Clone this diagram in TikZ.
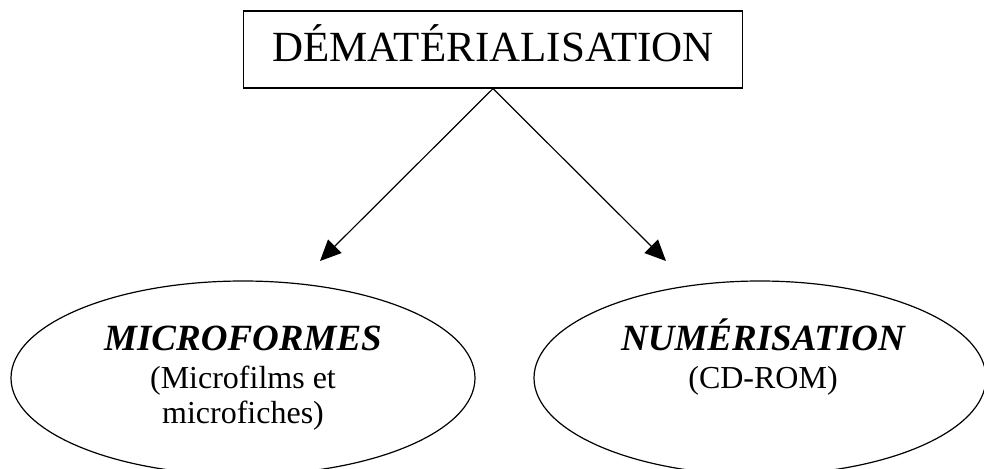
\documentclass[tikz,border=0pt]{standalone}
\usepackage{fontspec}
\setmainfont{Liberation Serif}
\usetikzlibrary{shapes.geometric,arrows.meta}
\begin{document}
\begin{tikzpicture}[x=1pt,y=-1pt,line width=1.2pt,
  titlebox/.style={draw,minimum width=499pt,minimum height=77pt,inner sep=0pt},
  oval/.style={draw,ellipse,inner sep=0pt,minimum height=194pt},
  bigtxt/.style={anchor=base,inner sep=0pt,font=\fontsize{43}{43}\selectfont},
  headtxt/.style={anchor=base,inner sep=0pt,font=\fontsize{37}{37}\selectfont\bfseries\itshape},
  subtxt/.style={anchor=base,inner sep=0pt,font=\fontsize{32}{32}\selectfont},
  arr/.style={-{Triangle[length=21pt,width=19pt]}}]
\useasboundingbox (0,0) rectangle (984,468);
\node[titlebox] (box) at (493,49.5) {};
\node[bigtxt] (title) at (493,62) {DÉMATÉRIALISATION};
\node[oval,minimum width=464pt] (left) at (243,378) {};
\node[oval,minimum width=452pt] (right) at (760,378) {};
\node[headtxt] (lh) at (243,350) {MICROFORMES};
\node[subtxt] (l1) at (243,388) {(Microfilms et};
\node[subtxt] (l2) at (243,423) {microfiches)};
\node[headtxt] (rh) at (763,350) {NUMÉRISATION};
\node[subtxt] (r1) at (763,388) {(CD-ROM)};
\coordinate (tipL) at (320,261);
\coordinate (tipR) at (666,261);
\draw[arr] (box.south) -- (tipL);
\draw[arr] (box.south) -- (tipR);
\end{tikzpicture}
\end{document}
